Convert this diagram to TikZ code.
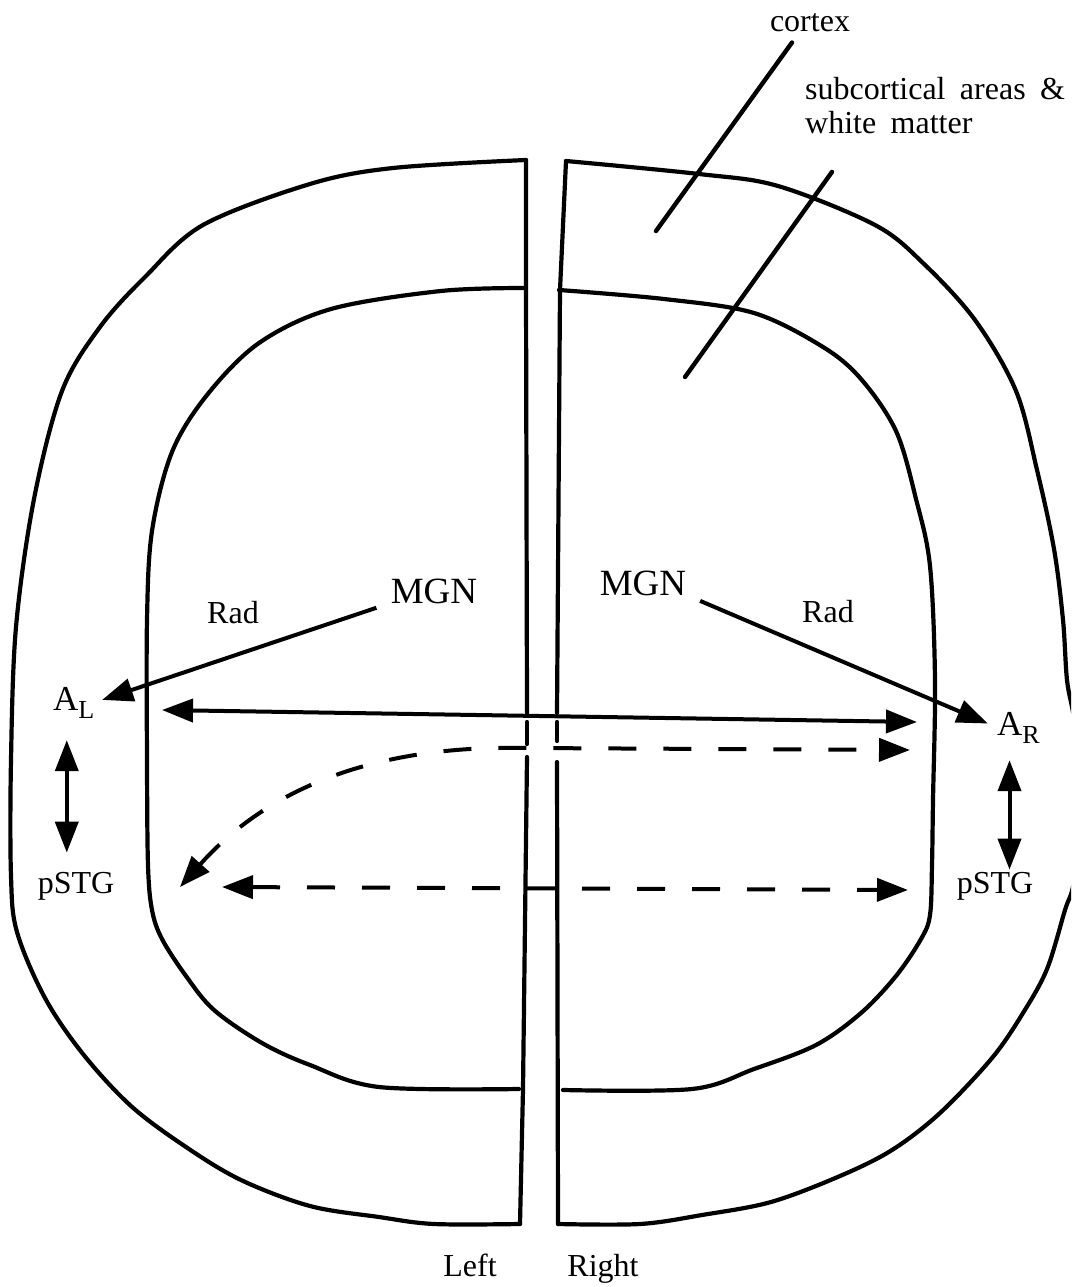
\documentclass[tikz,border=0pt]{standalone}
\usepackage{fontspec}
\setmainfont{Liberation Serif}
\usetikzlibrary{arrows.meta,calc}

\begin{document}
\begin{tikzpicture}[
  x=1pt, y=-1pt,
  wall/.style={line width=4.2pt, line join=round, line cap=round},
  lbl/.style={inner sep=0pt, font=\fontsize{32}{34}\selectfont},
  big/.style={inner sep=0pt, font=\fontsize{37}{40}\selectfont},
  arr/.style={line width=4pt, -{Triangle[length=31pt,width=23pt]}},
  dbl/.style={line width=4pt,
              {Triangle[length=31pt,width=23pt]}-{Triangle[length=31pt,width=23pt]}},
  dsh/.style={dbl, dash pattern=on 28pt off 27pt},
  lead/.style={line width=4.4pt, line cap=round}
]
\useasboundingbox (0,0) rectangle (1071,1287);
\clip (0,0) rectangle (1071,1287);

% left hemisphere
\draw[wall] plot[smooth, tension=0.55] coordinates {(526,160) (393,168) (310,184)
  (203,225) (145,277) (100,327) (62,391) (34,499) (16,627) (11,760) (11,876)
  (17,932) (45,998) (83,1054) (131,1106) (186,1147) (241,1180) (310,1206)
  (379,1217) (434,1224) (520,1224)};
\draw[wall] plot[smooth, tension=0.55] coordinates {(526,288) (441,291) (331,309)
  (259,343) (207,395) (172,452) (152,531) (147,620) (147,760) (148,865)
  (152,910) (162,939) (186,976) (214,1010) (262,1043) (310,1065) (379,1087)
  (519,1089)};
\draw[wall] (526,160) -- (526,288) -- (527,713);
\draw[wall] (527,722) -- (527,744);
\draw[wall] (527,757) -- (523,1089) -- (520,1224);

% right hemisphere
\draw[wall] plot[smooth, tension=0.55] coordinates {(566,161) (699,174) (778,186)
  (875,225) (923,263) (975,320) (1016,391) (1037,470) (1054,549) (1063,620)
  (1067,680) (1074,718) (1086,800) (1074,882) (1065,910) (1047,969) (1023,1013)
  (992,1058) (940,1113) (892,1150) (840,1176) (771,1202) (702,1215)
  (640,1224) (558,1224)};
\draw[wall] plot[smooth, tension=0.55] coordinates {(559,290) (664,299) (754,313)
  (823,347) (861,379) (896,431) (916,499) (930,566) (935,680) (933,800)
  (932,865) (930,915) (921,939) (896,976) (861,1013) (816,1045) (754,1069)
  (692,1089) (563,1090)};
\draw[wall] (566,161) -- (560,290) -- (557,713);
\draw[wall] (557,722) -- (557,741);
\draw[wall] (557,762) -- (558,1224);

% labels
\node[lbl, anchor=base] (cortex) at (810,32) {cortex};
\node[lbl, anchor=north west, align=left] (subLbl) at (805,77)
  {subcortical\hspace{0.45em}areas\hspace{0.45em}\&\\white\hspace{0.45em}matter};
\node[big, anchor=base] (mgnL) at (434,603) {MGN};
\node[big, anchor=base] (mgnR) at (643,595) {MGN};
\node[lbl, anchor=base] (radL) at (233,623) {Rad};
\node[lbl, anchor=base] (radR) at (828,622) {Rad};
\node[big, anchor=base west, font=\fontsize{35}{38}\selectfont] (aL) at (53,710)
  {A\raisebox{-8pt}{\fontsize{26}{26}\selectfont L}};
\node[big, anchor=base west, font=\fontsize{35}{38}\selectfont] (aR) at (997,735)
  {A\raisebox{-8pt}{\fontsize{26}{26}\selectfont R}};
\node[lbl, anchor=base] (pstgL) at (76,893) {pSTG};
\node[lbl, anchor=base] (pstgR) at (995,893) {pSTG};
\node[lbl, anchor=base] (lft) at (470,1276) {Left};
\node[lbl, anchor=base] (rgt) at (603,1276) {Right};

% leaders
\coordinate (cxEnd) at (656,231);
\coordinate (wmEnd) at (685,377);
\draw[lead] ($(cortex.south)+(-18,10)$) -- (cxEnd);
\draw[lead] ($(subLbl.south west)+(27,38)$) -- (wmEnd);

% radiations
\draw[arr, shorten <=15pt, shorten >=8pt] (mgnL.base west) -- (aL.east);
\draw[arr, shorten <=15pt, shorten >=10pt] (mgnR.base east) -- (aR.west);
\draw[dbl, shorten <=22pt, shorten >=19pt] ($(aL.south)+(-7,0)$)
  -- ($(aL.south |- pstgL.north)+(-7,0)$);
\draw[dbl, shorten <=17pt, shorten >=2pt] ($(aR.south)+(-9,0)$)
  -- ($(aR.south |- pstgR.north)+(-9,0)$);

% callosal paths
\coordinate (hL) at (162,710);
\coordinate (hR) at (917,722);
\draw[dbl] (hL) -- (hR);
\coordinate (cL) at (180,887);
\coordinate (cR) at (910,750);
\draw[dsh] (cL) .. controls (280,775) and (400,745) .. (527,748) -- (cR);
\coordinate (lL) at (222,887);
\coordinate (lR) at (908,890);
\draw[dsh] (lL) -- (lR);
\end{tikzpicture}
\end{document}
